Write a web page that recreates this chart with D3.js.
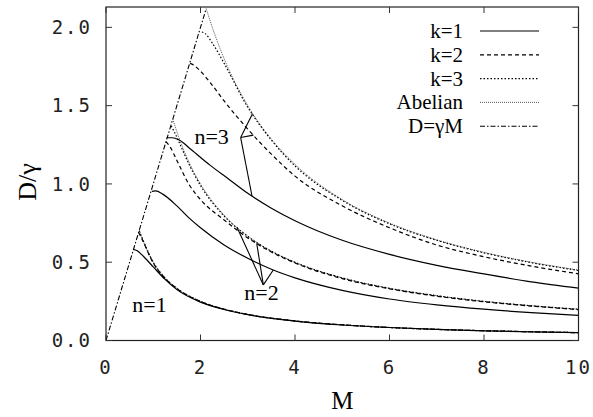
<!DOCTYPE html>
<html>
<head>
<meta charset="utf-8">
<script src="https://cdn.jsdelivr.net/npm/d3@7/dist/d3.min.js"></script>
<style>
  body { margin: 0; background: #fff; }
  svg { display: block; }
  .serif { font-family: "Liberation Serif", "Times New Roman", Times, "DejaVu Serif", serif; }
  .mono { font-family: "DejaVu Sans Mono", "Liberation Mono", monospace; }
</style>
</head>
<body>
<div id="chart"></div>
<script>
/** Chart size */
const width = 593;
const height = 417;
const margin = { top: 7, right: 14.5, bottom: 76.5, left: 106 };

/** Axis ticks */
const xTicks = [0, 2, 4, 6, 8, 10];
const yTicks = [0, 0.5, 1.0, 1.5, 2.0];

/** D = gamma M line */
const lineM = [0, 2.12];
const lineD = [0, 2.12];

/** n = 1 curves (M, D/gamma) */
const n1M = [0.707, 0.75, 1, 1.25, 1.5, 2, 2.5, 3, 4, 5, 6, 7, 8, 9, 10];
const n1Abelian = [0.707, 0.667, 0.5, 0.4, 0.333, 0.25, 0.2, 0.167, 0.125, 0.1, 0.083, 0.071, 0.0625, 0.056, 0.05];
const n1k3M = [0.70, 0.75, 1, 1.25, 1.5, 2, 2.5, 3, 4, 5, 6, 7, 8, 9, 10];
const n1k3 = [0.70, 0.665, 0.499, 0.399, 0.333, 0.25, 0.2, 0.167, 0.125, 0.1, 0.083, 0.071, 0.0625, 0.056, 0.05];
const n1k2M = [0.69, 0.75, 1, 1.25, 1.5, 2, 2.5, 3, 4, 5, 6, 7, 8, 9, 10];
const n1k2 = [0.69, 0.655, 0.495, 0.397, 0.332, 0.249, 0.2, 0.166, 0.125, 0.1, 0.083, 0.071, 0.0625, 0.056, 0.05];
const n1k1M = [0.59, 0.65, 0.8, 1, 1.25, 1.5, 2, 2.5, 3, 4, 5, 6, 7, 8, 9, 10];
const n1k1 = [0.58, 0.575, 0.535, 0.47, 0.39, 0.325, 0.245, 0.198, 0.165, 0.124, 0.099, 0.083, 0.071, 0.062, 0.055, 0.05];

/** n = 2 curves */
const n2M = [1.414, 1.5, 1.75, 2, 2.5, 3, 3.5, 4, 5, 6, 7, 8, 9, 10];
const n2Abelian = [1.414, 1.333, 1.143, 1.0, 0.8, 0.667, 0.571, 0.5, 0.4, 0.333, 0.286, 0.25, 0.222, 0.2];
const n2k3M = [1.38, 1.45, 1.6, 1.75, 2, 2.5, 3, 3.5, 4, 5, 6, 7, 8, 9, 10];
const n2k3 = [1.37, 1.33, 1.23, 1.13, 0.99, 0.795, 0.665, 0.57, 0.499, 0.4, 0.333, 0.286, 0.25, 0.222, 0.2];
const n2k2M = [1.27, 1.35, 1.5, 1.75, 2, 2.5, 3, 3.5, 4, 5, 6, 7, 8, 9, 10];
const n2k2 = [1.27, 1.24, 1.15, 1.0, 0.9, 0.77, 0.655, 0.565, 0.495, 0.395, 0.33, 0.283, 0.247, 0.22, 0.197];
const n2k1M = [0.97, 1.05, 1.2, 1.5, 1.75, 2, 2.5, 3, 3.5, 4, 5, 6, 7, 8, 9, 10];
const n2k1 = [0.953, 0.955, 0.935, 0.86, 0.785, 0.72, 0.61, 0.525, 0.455, 0.4, 0.32, 0.265, 0.228, 0.2, 0.178, 0.16];

/** n = 3 curves */
const n3M = [2.12, 2.25, 2.5, 3, 3.5, 4, 5, 6, 7, 8, 9, 10];
const n3Abelian = [2.12, 2.0, 1.8, 1.5, 1.286, 1.125, 0.9, 0.75, 0.643, 0.563, 0.5, 0.45];
const n3k3M = [2.03, 2.1, 2.25, 2.5, 3, 3.5, 4, 5, 6, 7, 8, 9, 10];
const n3k3 = [1.97, 1.96, 1.9, 1.77, 1.49, 1.28, 1.115, 0.895, 0.745, 0.64, 0.56, 0.497, 0.447];
const n3k2M = [1.78, 1.85, 2, 2.25, 2.5, 3, 3.5, 4, 5, 6, 7, 8, 9, 10];
const n3k2 = [1.77, 1.76, 1.72, 1.63, 1.53, 1.35, 1.19, 1.05, 0.86, 0.72, 0.61, 0.535, 0.475, 0.426];
const n3k1M = [1.28, 1.4, 1.55, 1.8, 2.2, 2.6, 3, 3.5, 4, 5, 6, 7, 8, 9, 10];
const n3k1 = [1.295, 1.295, 1.28, 1.22, 1.12, 1.03, 0.94, 0.845, 0.765, 0.64, 0.55, 0.48, 0.425, 0.375, 0.335];

/** Line styles per series kind */
const styles = {
  k1: { dash: null, color: "#000", width: 1.2 },
  k2: { dash: "4,3", color: "#000", width: 1.2 },
  k3: { dash: "1.5,2", color: "#000", width: 1.2 },
  abelian: { dash: "1,1", color: "#555", width: 1 },
  line: { dash: "5,2,1.5,2", color: "#000", width: 1.1 },
};

/** Series list, built from the arrays above */
const series = [
  { kind: "line", M: lineM, D: lineD },
  { kind: "abelian", M: n1M, D: n1Abelian },
  { kind: "k3", M: n1k3M, D: n1k3 },
  { kind: "k2", M: n1k2M, D: n1k2 },
  { kind: "k1", M: n1k1M, D: n1k1 },
  { kind: "abelian", M: n2M, D: n2Abelian },
  { kind: "k3", M: n2k3M, D: n2k3, id: "n2k3" },
  { kind: "k2", M: n2k2M, D: n2k2, id: "n2k2" },
  { kind: "k1", M: n2k1M, D: n2k1, id: "n2k1" },
  { kind: "abelian", M: n3M, D: n3Abelian },
  { kind: "k3", M: n3k3M, D: n3k3, id: "n3k3" },
  { kind: "k2", M: n3k2M, D: n3k2, id: "n3k2" },
  { kind: "k1", M: n3k1M, D: n3k1, id: "n3k1" },
];

/** Legend entries */
const legendLabels = ["k=1", "k=2", "k=3", "Abelian", "D=γM"];
const legendKinds = ["k1", "k2", "k3", "abelian", "line"];

/** "n=" labels with pointer vertex and targets (curve id, M) */
const nLabels = [
  { text: "n=1", M: 0.92, D: 0.183, anchor: "middle", vertex: null, targets: [] },
  { text: "n=2", M: 3.29, D: 0.26, anchor: "middle", vertex: [3.33, 0.355],
    targets: [["n2k3", 2.77], ["n2k2", 3.19], ["n2k1", 3.54]] },
  { text: "n=3", M: 2.6, D: 1.257, anchor: "end", vertex: [2.85, 1.296],
    targets: [["n3k3", 3.10], ["n3k2", 3.12], ["n3k1", 3.09]] },
];

const innerWidth = width - margin.left - margin.right;
const innerHeight = height - margin.top - margin.bottom;

const xScale = d3.scaleLinear().domain([0, 10]).range([0, innerWidth]);
const yScale = d3.scaleLinear().domain([0, 2.13]).range([innerHeight, 0]);

const svg = d3.select("#chart").append("svg")
  .attr("width", width)
  .attr("height", height);

const g = svg.append("g")
  .attr("transform", `translate(${margin.left},${margin.top})`);

/** Clip curves to the plot box */
svg.append("defs").append("clipPath").attr("id", "clip")
  .append("rect").attr("width", innerWidth).attr("height", innerHeight);

/** Curves */
const lineGen = d3.line()
  .x((d) => xScale(d[0]))
  .y((d) => yScale(d[1]));

const curves = g.append("g").attr("clip-path", "url(#clip)");
series.forEach((s) => {
  const st = styles[s.kind];
  lineGen.curve(s.kind === "line" ? d3.curveLinear : d3.curveMonotoneX);
  curves.append("path")
    .datum(s.M.map((m, i) => [m, s.D[i]]))
    .attr("fill", "none")
    .attr("stroke", st.color)
    .attr("stroke-width", st.width)
    .attr("stroke-dasharray", st.dash)
    .attr("d", lineGen);
});

/** Value of a curve at M, linear between read points */
const valueAt = (id, m) => {
  const s = series.find((d) => d.id === id);
  const i = Math.max(1, d3.bisectLeft(s.M, m));
  const t = (m - s.M[i - 1]) / (s.M[i] - s.M[i - 1]);
  return s.D[i - 1] + t * (s.D[i] - s.D[i - 1]);
};

/** n labels and pointers */
nLabels.forEach((l) => {
  g.append("text")
    .attr("class", "serif")
    .attr("x", xScale(l.M))
    .attr("y", yScale(l.D))
    .attr("text-anchor", l.anchor)
    .attr("font-size", 22)
    .text(l.text);
  l.targets.forEach(([id, m]) => {
    g.append("line")
      .attr("x1", xScale(l.vertex[0]))
      .attr("y1", yScale(l.vertex[1]))
      .attr("x2", xScale(m))
      .attr("y2", yScale(valueAt(id, m)))
      .attr("stroke", "#000")
      .attr("stroke-width", 1.1);
  });
});

/** Frame */
g.append("rect")
  .attr("width", innerWidth)
  .attr("height", innerHeight)
  .attr("fill", "none")
  .attr("stroke", "#222")
  .attr("stroke-width", 1.2);

/** Inward ticks on all four sides */
const tickLen = 6;
const tickColor = "#333";
xTicks.forEach((t) => {
  g.append("line").attr("x1", xScale(t)).attr("x2", xScale(t))
    .attr("y1", innerHeight).attr("y2", innerHeight - tickLen)
    .attr("stroke", tickColor);
  g.append("line").attr("x1", xScale(t)).attr("x2", xScale(t))
    .attr("y1", 0).attr("y2", tickLen)
    .attr("stroke", tickColor);
});
yTicks.forEach((t) => {
  g.append("line").attr("y1", yScale(t)).attr("y2", yScale(t))
    .attr("x1", 0).attr("x2", tickLen)
    .attr("stroke", tickColor);
  g.append("line").attr("y1", yScale(t)).attr("y2", yScale(t))
    .attr("x1", innerWidth).attr("x2", innerWidth - tickLen)
    .attr("stroke", tickColor);
});

/** Tick labels */
g.selectAll(".xlabel").data(xTicks).enter().append("text")
  .attr("class", "mono")
  .attr("x", (d) => xScale(d))
  .attr("y", innerHeight + 33)
  .attr("text-anchor", "middle")
  .attr("font-size", 19)
  .attr("letter-spacing", 2)
  .attr("fill", "#222")
  .text((d) => d);

g.selectAll(".ylabel").data(yTicks).enter().append("text")
  .attr("class", "mono")
  .attr("x", -14)
  .attr("y", (d) => yScale(d))
  .attr("dy", "0.35em")
  .attr("text-anchor", "end")
  .attr("font-size", 19)
  .attr("letter-spacing", 2)
  .attr("fill", "#222")
  .text((d) => d3.format(".1f")(d));

/** Axis titles */
svg.append("text")
  .attr("class", "serif")
  .attr("x", margin.left + innerWidth / 2)
  .attr("y", 409)
  .attr("text-anchor", "middle")
  .attr("font-size", 25)
  .text("M");

svg.append("text")
  .attr("class", "serif")
  .attr("transform", "translate(36,182) rotate(-90)")
  .attr("text-anchor", "middle")
  .attr("font-size", 26)
  .text("D/γ");

/** Legend */
const legend = svg.append("g");
legendLabels.forEach((label, i) => {
  const y = 31 + i * 23.8;
  const st = styles[legendKinds[i]];
  legend.append("text")
    .attr("class", "serif")
    .attr("x", 463)
    .attr("y", y + 7)
    .attr("text-anchor", "end")
    .attr("font-size", 21)
    .text(label);
  legend.append("line")
    .attr("x1", 480).attr("x2", 539)
    .attr("y1", y).attr("y2", y)
    .attr("stroke", st.color)
    .attr("stroke-width", st.width)
    .attr("stroke-dasharray", st.dash);
});
</script>
</body>
</html>
